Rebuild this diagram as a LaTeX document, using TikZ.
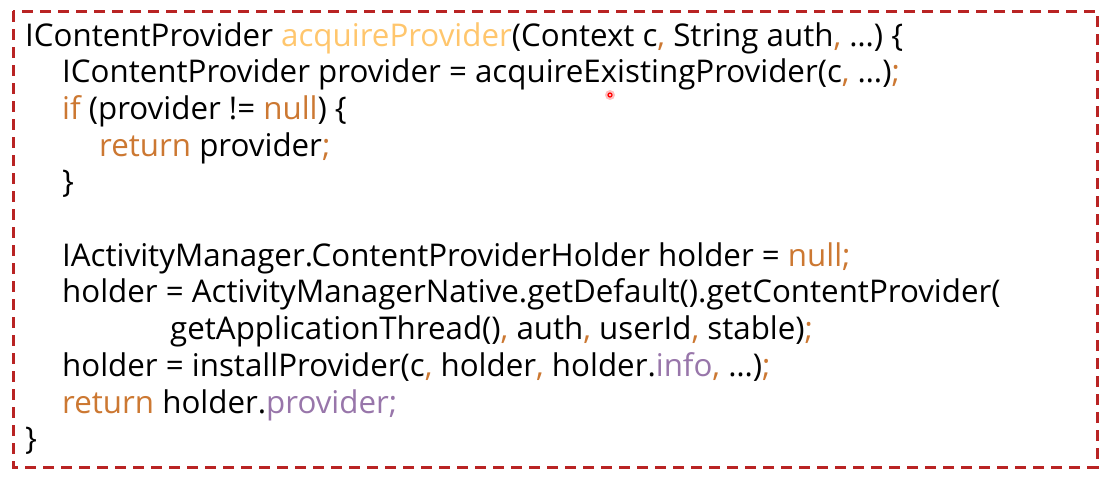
\documentclass[tikz,border=0pt]{standalone}
\usepackage{fontspec}
\setmainfont{Open Sans}
\usepackage{tikz}

\definecolor{kwcol}{RGB}{204,120,50}
\definecolor{fncol}{RGB}{255,198,109}
\definecolor{fldcol}{RGB}{152,118,170}
\definecolor{boxcol}{RGB}{185,35,35}
\newcommand{\kw}[1]{\textcolor{kwcol}{#1}}
\newcommand{\fn}[1]{\textcolor{fncol}{#1}}
\newcommand{\fld}[1]{\textcolor{fldcol}{#1}}

\tikzset{
	codeline/.style={anchor=base west, inner sep=0pt, font=\fontsize{31.3}{37}\selectfont},
	frame/.style={draw=boxcol, line width=3pt, dash pattern=on 11pt off 7pt}
}

\begin{document}
\begin{tikzpicture}[x=1pt,y=-1pt]
		\useasboundingbox (0,0) rectangle (1119,479);
		\draw[frame] (13,11) rectangle (1097,467);
		% code lines
		\node[codeline] (l1) at (25,46) {IContentProvider \fn{acquireProvider}(Context c\kw{,} String auth\kw{,} …) \{};
		\node[codeline] (l2) at (62,82.7) {IContentProvider provider = acquireExistingProvider(c\kw{,} …)\kw{;}};
		\node[codeline] (l3) at (62,119.4) {\kw{if} (provider != \kw{null}) \{};
		\node[codeline] (l4) at (99,156.1) {\kw{return} provider\kw{;}};
		\node[codeline] (l5) at (62,192.8) {\}};
		\node[codeline] (l7) at (62,266.2) {IActivityManager.ContentProviderHolder holder = \kw{null;}};
		\node[codeline] (l8) at (62,302.9) {holder = ActivityManagerNative.getDefault().getContentProvider(};
		\node[codeline] (l9) at (170,339.6) {getApplicationThread()\kw{,} auth\kw{,} userId\kw{,} stable)\kw{;}};
		\node[codeline] (l10) at (62,376.3) {holder = installProvider(c\kw{,} holder\kw{,} holder.\fld{info}\kw{,} …)\kw{;}};
		\node[codeline] (l11) at (62,413) {\kw{return} holder.\fld{provider;}};
		\node[codeline] (l12) at (25,449.7) {\}};
		% pointer dot
		\fill[red!25] (610,95) circle (5);
		\draw[red, line width=1.2pt] (610,95) circle (2);
\end{tikzpicture}
\end{document}
